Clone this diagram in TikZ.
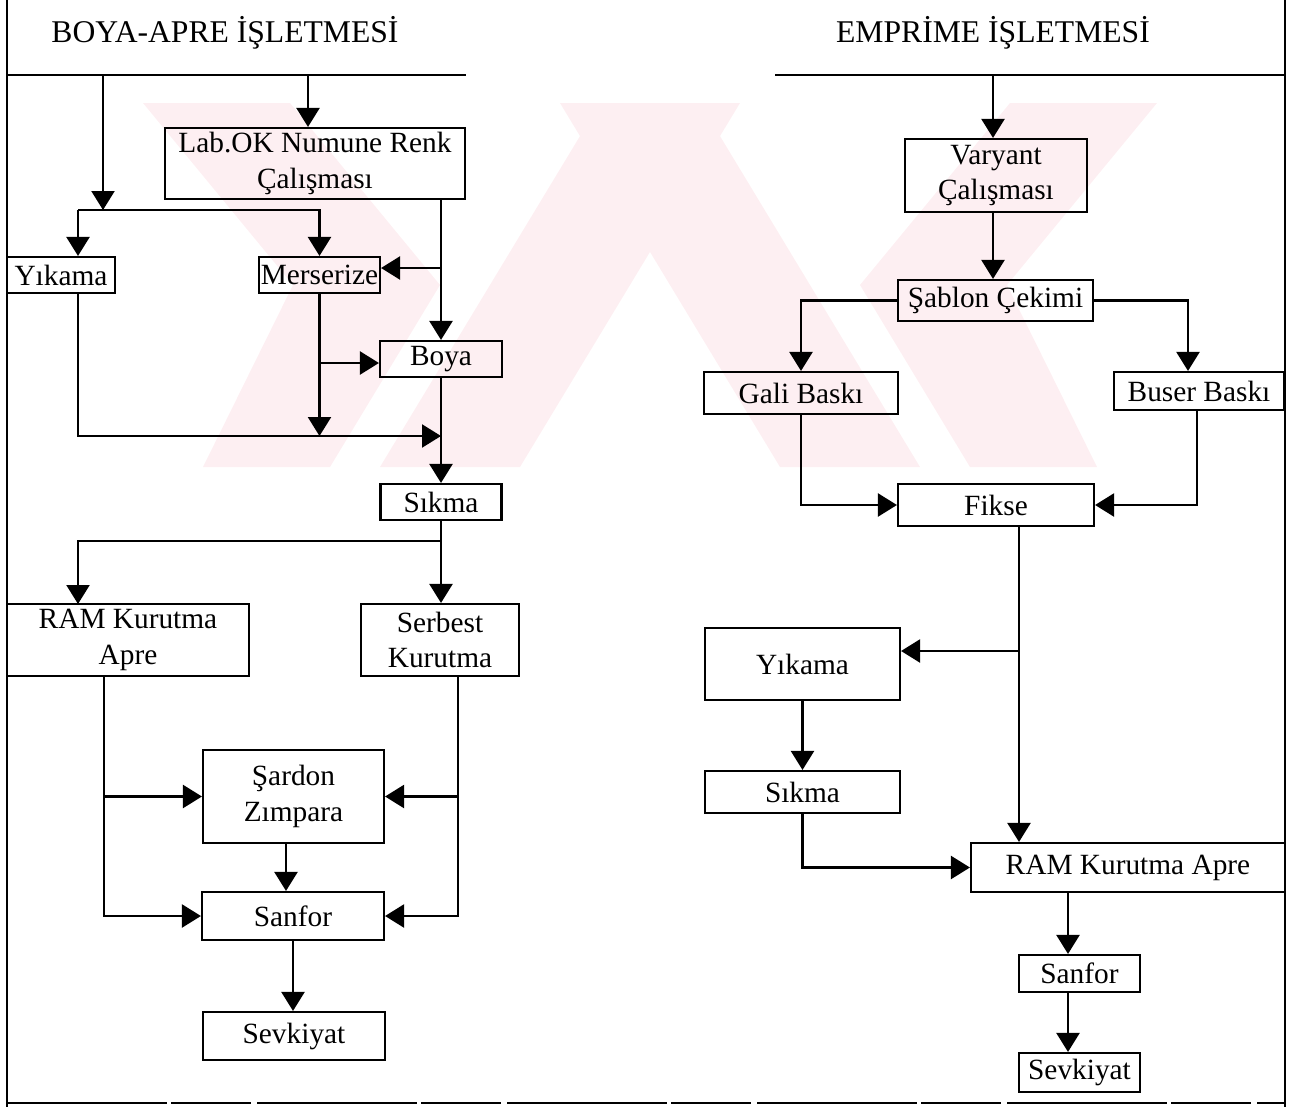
\documentclass[tikz,border=0pt]{standalone}
\usepackage{fontspec}
\setmainfont{Liberation Serif}
\usetikzlibrary{arrows.meta}
\definecolor{wmark}{RGB}{253,239,242}

\begin{document}
\begin{tikzpicture}[
        box/.style={draw, line width=1.2pt, inner sep=0pt, align=center, font=\fontsize{16.7}{20}\selectfont},
        flow/.style={line width=1.3pt, -{Triangle[length=0.38cm, width=0.46cm]}},
        plain/.style={line width=1.3pt}]
        \useasboundingbox (0,0) rectangle (25.88,-22.14);

        % watermark
        \fill[wmark] (2.86,-2.06) -- (5.80,-2.06) -- (8.80,-5.70) -- (6.60,-9.34) -- (4.06,-9.34) -- (5.86,-5.70) -- cycle;
        \fill[wmark] (7.60,-9.34) -- (10.40,-9.34) -- (14.80,-2.06) -- (12.00,-2.06) -- cycle;
        \fill[wmark] (23.14,-2.06) -- (20.20,-2.06) -- (17.20,-5.70) -- (19.40,-9.34) -- (21.94,-9.34) -- (20.14,-5.70) -- cycle;
        \fill[wmark] (18.40,-9.34) -- (15.60,-9.34) -- (11.20,-2.06) -- (14.00,-2.06) -- cycle;

        % frame
        \draw[line width=1.2pt] (0.14,0) -- (0.14,-22.14);
        \draw[line width=1.2pt] (25.70,0) -- (25.70,-22.14);
        \draw[line width=1pt, dash pattern=on 3.2cm off 0.08cm on 1.6cm off 0.12cm] (0.14,-22.06) -- (25.70,-22.06);
        \draw[plain] (0.14,-1.50) -- (9.32,-1.50);
        \draw[plain] (15.50,-1.50) -- (25.70,-1.50);

        \node[font=\fontsize{18}{22}\selectfont] (boyatitle) at (4.50,-0.66) {BOYA-APRE İŞLETMESİ};
        \node[font=\fontsize{18}{22}\selectfont] (emptitle) at (19.86,-0.66) {EMPRİME İŞLETMESİ};

        % boya-apre
        \node[box, minimum width=6.0cm, minimum height=1.42cm] (lab) at (6.30,-3.27) {Lab.OK Numune Renk\\Çalışması};
        \node[box, minimum width=2.16cm, minimum height=0.72cm] (yik1) at (1.22,-5.50) {Yıkama};
        \node[box, minimum width=2.42cm, minimum height=0.72cm] (mers) at (6.39,-5.50) {Merserize};
        \node[box, minimum width=2.44cm, minimum height=0.72cm] (boya) at (8.82,-7.18) {Boya};
        \node[box, minimum width=2.42cm, minimum height=0.72cm] (sikma1) at (8.82,-10.04) {Sıkma};
        \node[box, minimum width=4.84cm, minimum height=1.44cm] (ram1) at (2.56,-12.80) {RAM Kurutma\\Apre};
        \node[box, minimum width=3.16cm, minimum height=1.44cm] (serbest) at (8.80,-12.80) {Serbest\\Kurutma};
        \node[box, minimum width=3.62cm, minimum height=1.86cm] (sardon) at (5.87,-15.93) {Şardon\\Zımpara};
        \node[box, minimum width=3.64cm, minimum height=0.96cm] (sanfor1) at (5.86,-18.32) {Sanfor};
        \node[box, minimum width=3.64cm, minimum height=0.96cm] (sevk1) at (5.88,-20.72) {Sevkiyat};

        \coordinate (t1) at (2.06,-1.50);
        \coordinate (t2) at (6.16,-1.50);
        \coordinate (s1) at (2.06,-4.20);
        \coordinate (s1l) at (1.56,-4.20);
        \draw[flow] (t1) -- (s1);
        \draw[flow] (t2) -- (t2 |- lab.north);
        \draw[flow] (s1l) -- (s1l |- yik1.north);
        \draw[flow] (s1l) -| (mers.north);
        \draw[flow] (boya.north |- lab.south) -- (boya.north);
        \coordinate (s2) at (8.82,-5.36);
        \draw[flow] (s2) -- (s2 -| mers.east);
        \coordinate (s3) at (6.39,-8.72);
        \draw[flow] (mers.south) -- (s3);
        \coordinate (s4) at (6.39,-7.26);
        \draw[flow] (s4) -- (s4 -| boya.west);
        \coordinate (s5) at (8.82,-8.72);
        \draw[flow] (s1l |- yik1.south) |- (s5);
        \draw[flow] (boya.south) -- (sikma1.north);
        \coordinate (s6) at (8.82,-10.82);
        \coordinate (s7) at (1.56,-12.08);
        \draw[flow] (sikma1.south) -- (sikma1.south |- serbest.north);
        \draw[flow] (s6) -| (s7);

        \coordinate (r1) at (2.08,-18.32);
        \coordinate (r2) at (9.16,-18.32);
        \draw[flow] (r1 |- ram1.south) -- (r1) -- (sanfor1.west);
        \draw[flow] (r1 |- sardon.west) -- (sardon.west);
        \draw[flow] (r2 |- serbest.south) -- (r2) -- (sanfor1.east);
        \draw[flow] (r2 |- sardon.east) -- (sardon.east);
        \draw[flow] ([xshift=-0.15cm]sardon.south) -- ([xshift=-0.15cm]sardon.south |- sanfor1.north);
        \draw[flow] (sanfor1.south) -- (sanfor1.south |- sevk1.north);

        % emprime
        \node[box, minimum width=3.64cm, minimum height=1.46cm] (var) at (19.92,-3.51) {Varyant\\Çalışması};
        \node[box, minimum width=3.90cm, minimum height=0.82cm] (sablon) at (19.91,-6.01) {Şablon Çekimi};
        \node[box, minimum width=3.88cm, minimum height=0.84cm] (gali) at (16.02,-7.86) {Gali Baskı};
        \node[box, minimum width=3.40cm, minimum height=0.76cm] (buser) at (23.98,-7.82) {Buser Baskı};
        \node[box, minimum width=3.92cm, minimum height=0.84cm] (fikse) at (19.92,-10.10) {Fikse};
        \node[box, minimum width=3.90cm, minimum height=1.44cm] (yik2) at (16.05,-13.28) {Yıkama};
        \node[box, minimum width=3.90cm, minimum height=0.84cm] (sikma2) at (16.05,-15.84) {Sıkma};
        \node[box, minimum width=6.28cm, minimum height=0.98cm] (ram2) at (22.56,-17.35) {RAM Kurutma Apre};
        \node[box, minimum width=2.42cm, minimum height=0.74cm] (sanfor2) at (21.59,-19.47) {Sanfor};
        \node[box, minimum width=2.42cm, minimum height=0.78cm] (sevk2) at (21.59,-21.45) {Sevkiyat};

        \coordinate (t3) at (19.86,-1.50);
        \draw[flow] (t3) -- (t3 |- var.north);
        \draw[flow] (t3 |- var.south) -- (t3 |- sablon.north);
        \draw[flow] (sablon.west) -| (gali.north);
        \coordinate (b1) at (23.76,-6.01);
        \draw[flow] (sablon.east) -- (b1) -- (b1 |- buser.north);
        \draw[flow] (gali.south) |- (fikse.west);
        \coordinate (b2) at (23.94,-7.82);
        \draw[flow] (b2 |- buser.south) |- (fikse.east);
        \coordinate (f1) at (20.38,-13.02);
        \draw[flow] (f1 |- fikse.south) -- (f1 |- ram2.north);
        \draw[flow] (f1) -- (f1 -| yik2.east);
        \draw[flow] (yik2.south) -- (sikma2.north);
        \draw[flow] (sikma2.south) |- (ram2.west);
        \coordinate (f2) at (21.36,-17.35);
        \draw[flow] (f2 |- ram2.south) -- (f2 |- sanfor2.north);
        \draw[flow] (f2 |- sanfor2.south) -- (f2 |- sevk2.north);
    \end{tikzpicture}
\end{document}
